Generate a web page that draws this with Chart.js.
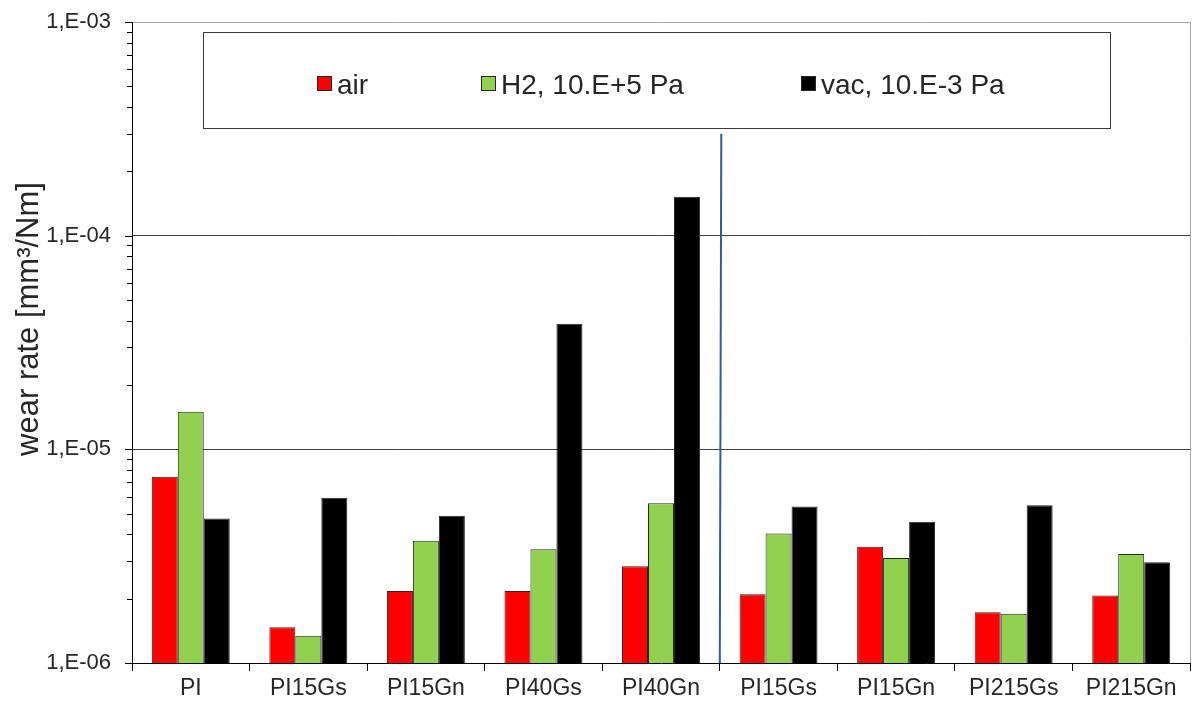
<!DOCTYPE html>
<html>
<head>
<meta charset="utf-8">
<script src="https://cdn.jsdelivr.net/npm/chart.js@4.4.1/dist/chart.umd.min.js"></script>
<style>
  html, body { margin: 0; padding: 0; background: #fff; }
  canvas { display: block; }
</style>
</head>
<body>
<canvas id="c" width="1197" height="703"></canvas>
<script>
// Wear rate of polyimide grades in air, hydrogen and vacuum
const categories = ['PI', 'PI15Gs', 'PI15Gn', 'PI40Gs', 'PI40Gn', 'PI15Gs', 'PI15Gn', 'PI215Gs', 'PI215Gn'];
const seriesLabels = ['air', 'H2, 10.E+5 Pa', 'vac, 10.E-3 Pa'];
const airRate = [7.45e-6, 1.47e-6, 2.17e-6, 2.17e-6, 2.84e-6, 2.10e-6, 3.50e-6, 1.73e-6, 2.07e-6];
const h2Rate  = [1.50e-5, 1.34e-6, 3.73e-6, 3.41e-6, 5.59e-6, 4.04e-6, 3.10e-6, 1.70e-6, 3.24e-6];
const vacRate = [4.75e-6, 5.94e-6, 4.89e-6, 3.87e-5, 1.52e-4, 5.40e-6, 4.58e-6, 5.48e-6, 2.96e-6];
const yTicks = [1e-6, 1e-5, 1e-4, 1e-3];
const yMin = 1e-6, yMax = 1e-3;
// separator between the two groups of materials (after index 4), top end value
const dividerAfter = 4;
const dividerTop = 3e-4;

const FONT = '"Liberation Sans", Arial, sans-serif';
const TEXT = '#262626';

function tickText(v) {
  const e = Math.round(Math.log10(v));
  const s = Math.abs(e) < 10 ? '0' + Math.abs(e) : String(Math.abs(e));
  return '1,E' + (e < 0 ? '-' : '+') + s;
}

const decor = {
  id: 'decor',
  afterDraw(chart) {
    const ctx = chart.ctx;
    const a = chart.chartArea;
    const x = chart.scales.x, y = chart.scales.y;
    ctx.save();

    // right frame edge
    ctx.strokeStyle = '#a6a6a6';
    ctx.lineWidth = 1;
    ctx.beginPath();
    ctx.moveTo(Math.round(a.right) + 0.5, a.top);
    ctx.lineTo(Math.round(a.right) + 0.5, a.bottom);
    ctx.stroke();

    // y ticks: majors at decades, minors at 2..9
    ctx.strokeStyle = '#000';
    ctx.beginPath();
    for (let d = 0; d < yTicks.length; d++) {
      const base = yTicks[d];
      const py = Math.round(y.getPixelForValue(base)) + 0.5;
      ctx.moveTo(a.left - 7, py);
      ctx.lineTo(a.left + 1, py);
      if (d < yTicks.length - 1) {
        for (let m = 2; m <= 9; m++) {
          const my = Math.round(y.getPixelForValue(base * m)) + 0.5;
          ctx.moveTo(a.left - 5, my);
          ctx.lineTo(a.left, my);
        }
      }
    }
    ctx.stroke();

    // vertical separator line
    const dx = (x.getPixelForValue(dividerAfter) + x.getPixelForValue(dividerAfter + 1)) / 2;
    ctx.strokeStyle = '#2f5d95';
    ctx.lineWidth = 2;
    ctx.beginPath();
    ctx.moveTo(dx + 1.5, y.getPixelForValue(dividerTop));
    ctx.lineTo(dx, a.bottom);
    ctx.stroke();

    // legend box
    const lg = chart.options.plugins.decor.legend;
    ctx.fillStyle = '#fff';
    ctx.fillRect(lg.left, lg.top, lg.width, lg.height);
    ctx.strokeStyle = '#3a3a3a';
    ctx.lineWidth = 1;
    ctx.strokeRect(lg.left + 0.5, lg.top + 0.5, lg.width, lg.height);
    ctx.font = lg.fontSize + 'px ' + FONT;
    ctx.textBaseline = 'alphabetic';
    ctx.textAlign = 'left';
    chart.data.datasets.forEach((ds, i) => {
      const ix = lg.itemX[i];
      ctx.fillStyle = ds.backgroundColor;
      ctx.fillRect(ix, lg.boxY, lg.box, lg.box);
      ctx.strokeStyle = '#262626';
      ctx.strokeRect(ix + 0.5, lg.boxY + 0.5, lg.box - 1, lg.box - 1);
      ctx.fillStyle = TEXT;
      ctx.fillText(ds.label, ix + lg.box + 5, lg.baseline);
    });

    // y axis title
    ctx.translate(38, 319);
    ctx.rotate(-Math.PI / 2);
    ctx.font = '31px ' + FONT;
    ctx.textAlign = 'center';
    ctx.textBaseline = 'alphabetic';
    ctx.fillStyle = TEXT;
    ctx.fillText('wear rate [mm³/Nm]', 0, 0);
    ctx.restore();
  }
};

const ds = (label, data, color) => ({
  label, data,
  backgroundColor: color,
  borderColor: '#262626',
  borderWidth: 1,
  borderSkipped: 'bottom',
  categoryPercentage: 0.663,
  barPercentage: 1.0
});

new Chart(document.getElementById('c'), {
  type: 'bar',
  data: {
    labels: categories,
    datasets: [
      ds(seriesLabels[0], airRate, '#ff0000'),
      ds(seriesLabels[1], h2Rate, '#92d050'),
      ds(seriesLabels[2], vacRate, '#000000')
    ]
  },
  plugins: [decor],
  options: {
    responsive: false,
    animation: false,
    devicePixelRatio: 1,
    layout: { padding: { top: 22, right: 7, left: 0, bottom: 0 } },
    plugins: {
      legend: { display: false },
      tooltip: { enabled: false },
      decor: {
        legend: {
          left: 203, top: 32, width: 907, height: 96,
          itemX: [317, 481, 801], box: 15, boxY: 76, baseline: 94, fontSize: 28
        }
      }
    },
    scales: {
      x: {
        grid: { drawOnChartArea: false, drawTicks: true, tickLength: 8, color: '#000', offset: true },
        border: { color: '#000', width: 1 },
        ticks: { font: { family: FONT, size: 23 }, color: TEXT, padding: 4, maxRotation: 0, autoSkip: false },
        afterFit(s) { s.height = 40; }
      },
      y: {
        type: 'logarithmic',
        min: yMin, max: yMax,
        afterBuildTicks(s) { s.ticks = yTicks.map(v => ({ value: v, major: true })); },
        grid: {
          drawTicks: true,
          tickLength: 21,
          tickColor: 'rgba(0,0,0,0)',
          color: c => {
            const v = c.tick && c.tick.value;
            if (v === yMax) return '#a6a6a6';
            if (v === yMin) return 'rgba(0,0,0,0)';
            return '#404040';
          }
        },
        border: { color: '#000', width: 1 },
        ticks: {
          font: { family: FONT, size: 22 },
          color: TEXT,
          padding: 0,
          callback: v => tickText(v)
        },
        afterFit(s) { s.width = 132; }
      }
    }
  }
});
</script>
</body>
</html>
